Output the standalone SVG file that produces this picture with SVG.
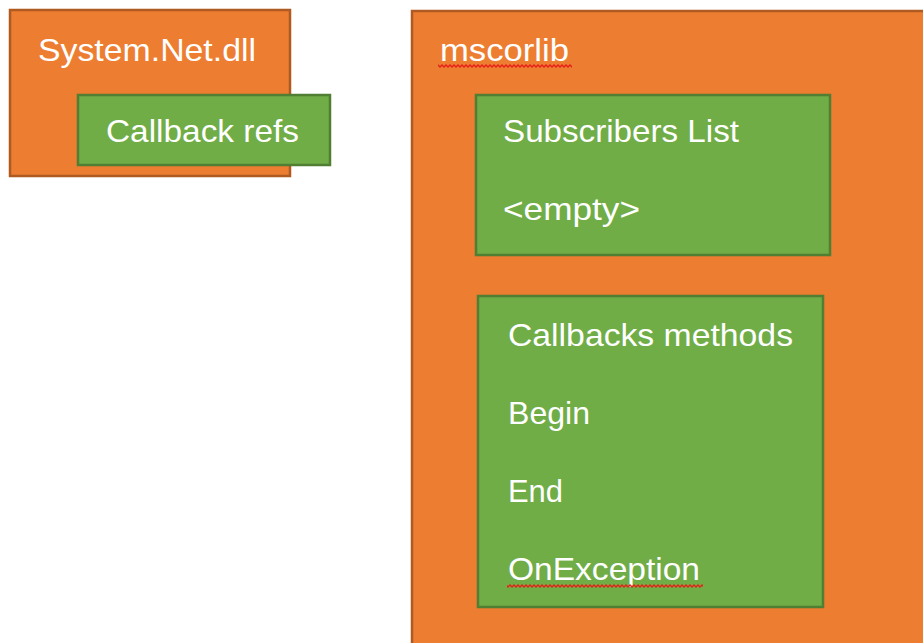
<svg xmlns="http://www.w3.org/2000/svg" width="923" height="643" viewBox="0 0 923 643">
<defs>
<style>
.org{fill:#ED7D31;stroke:#AE5A21;stroke-width:2.5}
.grn{fill:#70AD47;stroke:#507E32;stroke-width:2.5}
.t{font-family:"Liberation Sans",Arial,sans-serif;font-size:32px;fill:#FFFFFF}
.sq{fill:none;stroke:#E8201A;stroke-width:1.4}
</style>
<pattern id="wave" x="0" y="0" width="4" height="4" patternUnits="userSpaceOnUse"><path d="M-1,2 L0,3 L2,1 L4,3 L5,2" class="sq"/></pattern>
</defs>
<rect width="923" height="643" fill="#FFFFFF"/>
<g id="system-net">
<rect class="org" x="10" y="10" width="280" height="166"/>
<text class="t" x="38" y="61" textLength="218" lengthAdjust="spacingAndGlyphs">System.Net.dll</text>
</g>
<g id="callback-refs">
<rect class="grn" x="78" y="95" width="252" height="70"/>
<text class="t" x="106" y="142" textLength="193" lengthAdjust="spacingAndGlyphs">Callback refs</text>
</g>
<g id="mscorlib">
<rect class="org" x="412" y="11" width="520" height="640"/>
<text class="t" x="440" y="61" textLength="129" lengthAdjust="spacingAndGlyphs">mscorlib</text>
<rect x="438" y="64" width="134" height="4" fill="url(#wave)"/>
</g>
<g id="subscribers-list">
<rect class="grn" x="476" y="95" width="354" height="160"/>
<text class="t" x="503" y="142" textLength="236" lengthAdjust="spacingAndGlyphs">Subscribers List</text>
<text class="t" x="503" y="220" textLength="137" lengthAdjust="spacingAndGlyphs">&lt;empty&gt;</text>
</g>
<g id="callbacks-methods">
<rect class="grn" x="478" y="296" width="345" height="311"/>
<text class="t" x="508" y="346" textLength="285" lengthAdjust="spacingAndGlyphs">Callbacks methods</text>
<text class="t" x="508" y="424" textLength="82" lengthAdjust="spacingAndGlyphs">Begin</text>
<text class="t" x="508" y="502" textLength="55" lengthAdjust="spacingAndGlyphs">End</text>
<text class="t" x="508" y="580" textLength="192" lengthAdjust="spacingAndGlyphs">OnException</text>
<rect x="507" y="584" width="196" height="4" fill="url(#wave)"/>
</g>
<g id="connectors"></g>
</svg>
